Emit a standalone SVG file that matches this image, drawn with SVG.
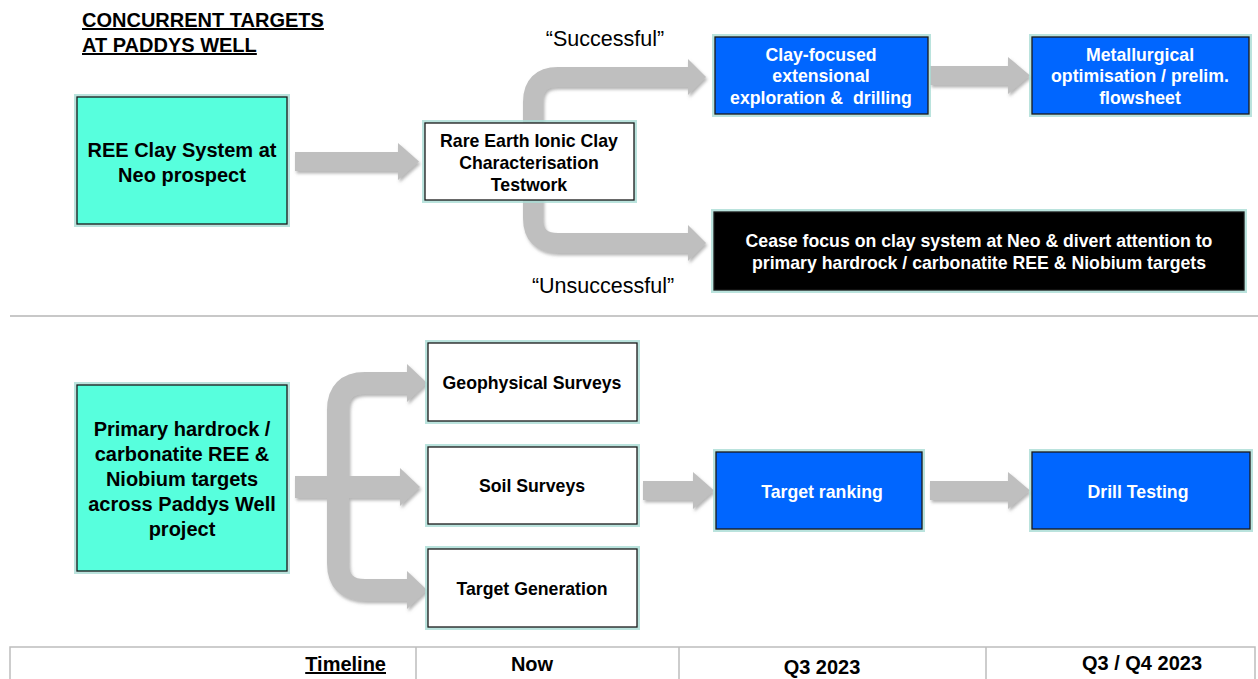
<svg xmlns="http://www.w3.org/2000/svg" width="1258" height="679" viewBox="0 0 1258 679">
<style>
text{font-family:"Liberation Sans",Arial,sans-serif;}
.t{font-weight:bold;font-size:17.7px;text-anchor:middle;}
.tl{font-weight:bold;font-size:20px;text-anchor:middle;}
.w{fill:#fff;}
.k{fill:#000;}
.glow{fill:none;stroke:#a9dcd5;stroke-width:6;opacity:0.8;}
.box{stroke:#1a1a1a;stroke-width:1.3;}
.aqua{fill:#57FFDD;}
.blue{fill:#0066FF;}
.white{fill:#fff;}
.black{fill:#000;}
.band{fill:none;stroke:#BFBFBF;}
.head{fill:#BFBFBF;}
.lbl{font-size:21.5px;text-anchor:middle;fill:#000;}
.tb{font-weight:bold;font-size:20px;text-anchor:middle;fill:#000;}
</style>
<defs>
<filter id="sh" x="-10%" y="-20%" width="130%" height="150%">
<feDropShadow dx="1.5" dy="2.5" stdDeviation="1.5" flood-color="#777" flood-opacity="0.55"/>
</filter>
</defs>
<rect width="1258" height="679" fill="#fff"/>

<g id="title">
<text x="82" y="27" font-weight="bold" font-size="20" text-decoration="underline">CONCURRENT TARGETS</text>
<text x="82" y="52" font-weight="bold" font-size="20" text-decoration="underline">AT PADDYS WELL</text>
</g>

<g id="connectors" filter="url(#sh)">
<!-- REE clay -> Rare Earth -->
<rect x="295" y="152" width="105" height="19" class="head"/>
<polygon points="398,143 419,161.5 398,180" class="head"/>
<!-- Rare Earth -> successful -->
<path d="M533 130 V102 Q533 77 558 77 H690" class="band" stroke-width="20"/>
<polygon points="688,59 706,77 688,95" class="head"/>
<!-- Rare Earth -> unsuccessful -->
<path d="M533 195 V218 Q533 243 558 243 H690" class="band" stroke-width="20"/>
<polygon points="688,225 706,243 688,261" class="head"/>
<!-- Clay focused -> Metallurgical -->
<rect x="930" y="66" width="80" height="19" class="head"/>
<polygon points="1008,57 1030,75.5 1008,94" class="head"/>
<!-- Primary -> three -->
<path d="M338 487 V410 Q338 383 365 383 H410" class="band" stroke-width="22"/>
<polygon points="407,364 427,383 407,402" class="head"/>
<path d="M338 487 V563 Q338 590 365 590 H410" class="band" stroke-width="22"/>
<polygon points="407,571 427,590 407,609" class="head"/>
<rect x="295" y="476" width="107" height="22" class="head"/>
<polygon points="400,468 420,487 400,506" class="head"/>
<!-- Soil -> Target ranking -->
<rect x="643" y="481" width="52" height="19" class="head"/>
<polygon points="693,472 714,490.5 693,509" class="head"/>
<!-- Target ranking -> Drill -->
<rect x="930" y="481" width="80" height="19" class="head"/>
<polygon points="1008,472 1030,490.5 1008,509" class="head"/>
</g>

<g id="labels">
<text x="605" y="46" class="lbl">“Successful”</text>
<text x="603" y="293" class="lbl">“Unsuccessful”</text>
</g>

<g id="ree-clay">
<rect x="77" y="97" width="210" height="127" class="glow"/>
<rect x="77" y="97" width="210" height="127" class="box aqua"/>
<text x="182" y="157" class="tl k">REE Clay System at</text>
<text x="182" y="182" class="tl k">Neo prospect</text>
</g>

<g id="rare-earth">
<rect x="425" y="123" width="209" height="77" class="glow"/>
<rect x="425" y="123" width="209" height="77" class="box white"/>
<text x="529" y="147" class="t k">Rare Earth Ionic Clay</text>
<text x="529" y="169" class="t k">Characterisation</text>
<text x="529" y="191" class="t k">Testwork</text>
</g>

<g id="clay-focused">
<rect x="715" y="37" width="213" height="77" class="glow"/>
<rect x="715" y="37" width="213" height="77" class="box blue"/>
<text x="821" y="61" class="t w">Clay-focused</text>
<text x="821" y="82" class="t w">extensional</text>
<text x="821" y="104" class="t w" xml:space="preserve">exploration &amp;  drilling</text>
</g>

<g id="metallurgical">
<rect x="1032" y="37" width="217" height="77" class="glow"/>
<rect x="1032" y="37" width="217" height="77" class="box blue"/>
<text x="1140" y="61" class="t w">Metallurgical</text>
<text x="1140" y="82" class="t w">optimisation / prelim.</text>
<text x="1140" y="104" class="t w">flowsheet</text>
</g>

<g id="cease">
<rect x="714" y="212" width="530" height="78" class="glow"/>
<rect x="714" y="212" width="530" height="78" class="box black"/>
<text x="979" y="247" class="t w">Cease focus on clay system at Neo &amp; divert attention to</text>
<text x="979" y="269" class="t w">primary hardrock / carbonatite REE &amp; Niobium targets</text>
</g>

<line x1="10" y1="316" x2="1258" y2="316" stroke="#c8c8c8" stroke-width="2"/>

<g id="primary">
<rect x="77" y="385" width="210" height="186" class="glow"/>
<rect x="77" y="385" width="210" height="186" class="box aqua"/>
<text x="182" y="436" class="tl k">Primary hardrock /</text>
<text x="182" y="461" class="tl k">carbonatite REE &amp;</text>
<text x="182" y="486" class="tl k">Niobium targets</text>
<text x="182" y="511" class="tl k">across Paddys Well</text>
<text x="182" y="536" class="tl k">project</text>
</g>

<g id="geophysical">
<rect x="428" y="343" width="209" height="78" class="glow"/>
<rect x="428" y="343" width="209" height="78" class="box white"/>
<text x="532" y="389" class="t k">Geophysical Surveys</text>
</g>

<g id="soil">
<rect x="428" y="447" width="209" height="77" class="glow"/>
<rect x="428" y="447" width="209" height="77" class="box white"/>
<text x="532" y="492" class="t k">Soil Surveys</text>
</g>

<g id="target-generation">
<rect x="428" y="549" width="209" height="78" class="glow"/>
<rect x="428" y="549" width="209" height="78" class="box white"/>
<text x="532" y="595" class="t k">Target Generation</text>
</g>

<g id="target-ranking">
<rect x="716" y="452" width="206" height="77" class="glow"/>
<rect x="716" y="452" width="206" height="77" class="box blue"/>
<text x="822" y="498" class="t w">Target ranking</text>
</g>

<g id="drill-testing">
<rect x="1032" y="452" width="218" height="77" class="glow"/>
<rect x="1032" y="452" width="218" height="77" class="box blue"/>
<text x="1138" y="498" class="t w">Drill Testing</text>
</g>

<g id="timeline">
<rect x="10" y="647" width="1245" height="50" fill="#fff" stroke="#bdbdbd" stroke-width="1.5"/>
<line x1="416" y1="647" x2="416" y2="679" stroke="#bdbdbd" stroke-width="1.5"/>
<line x1="679" y1="647" x2="679" y2="679" stroke="#bdbdbd" stroke-width="1.5"/>
<line x1="986" y1="647" x2="986" y2="679" stroke="#bdbdbd" stroke-width="1.5"/>
<text x="386" y="671" font-weight="bold" font-size="20" text-anchor="end" text-decoration="underline">Timeline</text>
<text x="532" y="671" class="tb">Now</text>
<text x="822" y="674" class="tb">Q3 2023</text>
<text x="1142" y="670" class="tb">Q3 / Q4 2023</text>
</g>
</svg>
